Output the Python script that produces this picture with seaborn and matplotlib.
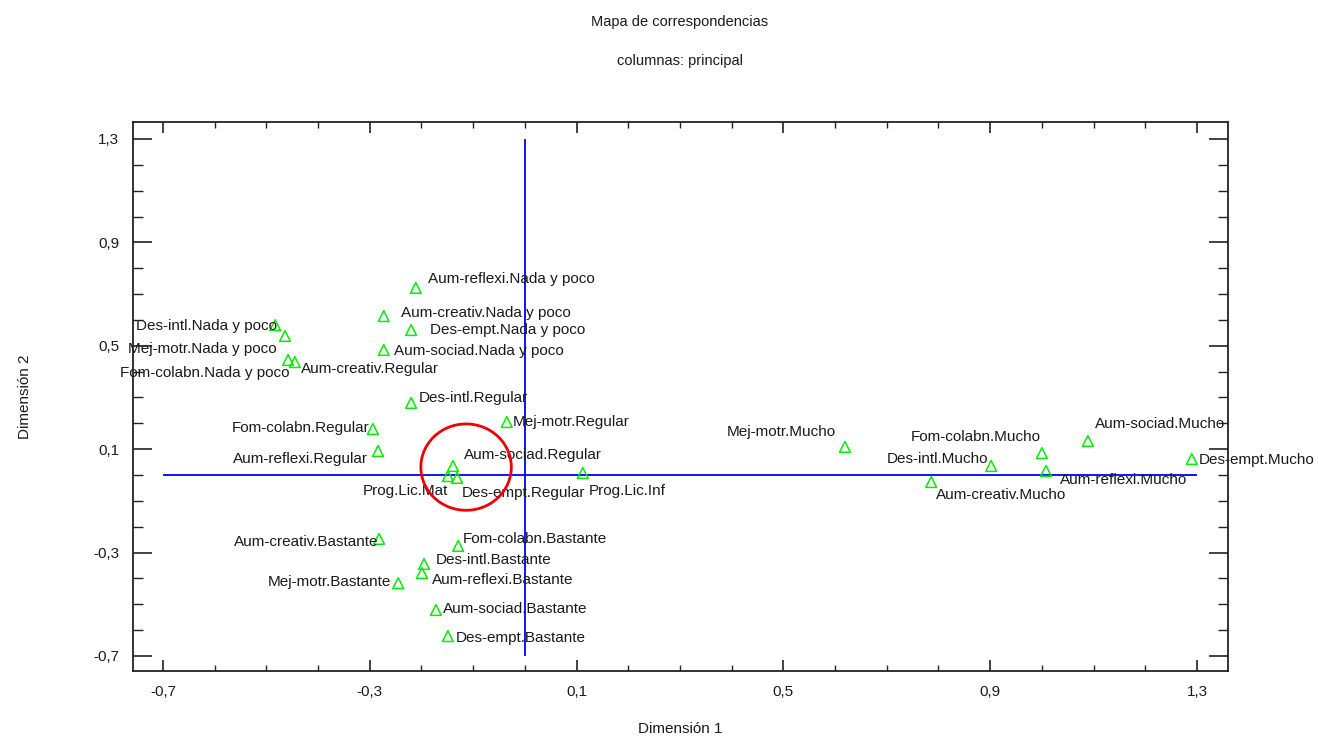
import numpy as np
import pandas as pd
import matplotlib
matplotlib.use('Agg')
import matplotlib.pyplot as plt
from matplotlib.patches import Ellipse
from matplotlib.ticker import MultipleLocator, FuncFormatter
import seaborn as sns

# puntos del mapa de correspondencias (dimensión 1, dimensión 2)
etiquetas = [
    'Aum-reflexi.Nada y poco', 'Aum-creativ.Nada y poco', 'Des-empt.Nada y poco',
    'Aum-sociad.Nada y poco', 'Des-intl.Nada y poco', 'Mej-motr.Nada y poco',
    'Fom-colabn.Nada y poco', 'Aum-creativ.Regular', 'Des-intl.Regular',
    'Mej-motr.Regular', 'Fom-colabn.Regular', 'Aum-reflexi.Regular',
    'Aum-sociad.Regular', 'Prog.Lic.Mat', 'Des-empt.Regular', 'Prog.Lic.Inf',
    'Aum-creativ.Bastante', 'Fom-colabn.Bastante', 'Des-intl.Bastante',
    'Aum-reflexi.Bastante', 'Mej-motr.Bastante', 'Aum-sociad.Bastante',
    'Des-empt.Bastante', 'Mej-motr.Mucho', 'Fom-colabn.Mucho', 'Des-intl.Mucho',
    'Aum-sociad.Mucho', 'Des-empt.Mucho', 'Aum-reflexi.Mucho', 'Aum-creativ.Mucho',
]
dim1 = [-0.211, -0.273, -0.220, -0.273, -0.483, -0.464, -0.458, -0.445, -0.220,
        -0.035, -0.294, -0.284, -0.139, -0.149, -0.131, 0.112, -0.282, -0.129,
        -0.195, -0.199, -0.245, -0.172, -0.149, 0.619, 1.000, 0.902, 1.089,
        1.290, 1.008, 0.786]
dim2 = [0.724, 0.615, 0.561, 0.484, 0.580, 0.538, 0.445, 0.437, 0.279, 0.205,
        0.178, 0.093, 0.035, -0.004, -0.011, 0.008, -0.247, -0.274, -0.344,
        -0.379, -0.418, -0.522, -0.623, 0.109, 0.085, 0.035, 0.132, 0.062,
        0.016, -0.027]

# posición de cada etiqueta respecto a su punto (px a la derecha, px hacia abajo, alineación)
pos_etiqueta = {
    'Aum-reflexi.Nada y poco': (12, -9, 'left'),
    'Aum-creativ.Nada y poco': (17, -3, 'left'),
    'Des-empt.Nada y poco': (19, 0, 'left'),
    'Aum-sociad.Nada y poco': (10, 1, 'left'),
    'Des-intl.Nada y poco': (2, 1, 'right'),
    'Mej-motr.Nada y poco': (-8, 13, 'right'),
    'Fom-colabn.Nada y poco': (1, 13, 'right'),
    'Aum-creativ.Regular': (6, 7, 'left'),
    'Des-intl.Regular': (8, -5, 'left'),
    'Mej-motr.Regular': (6, 0, 'left'),
    'Fom-colabn.Regular': (-3, -1, 'right'),
    'Aum-reflexi.Regular': (-10, 8, 'right'),
    'Aum-sociad.Regular': (11, -11, 'left'),
    'Prog.Lic.Mat': (0, 15, 'right'),
    'Des-empt.Regular': (5, 15, 'left'),
    'Prog.Lic.Inf': (6, 18, 'left'),
    'Aum-creativ.Bastante': (-1, 3, 'right'),
    'Fom-colabn.Bastante': (5, -7, 'left'),
    'Des-intl.Bastante': (12, -4, 'left'),
    'Aum-reflexi.Bastante': (10, 7, 'left'),
    'Mej-motr.Bastante': (-7, -1, 'right'),
    'Aum-sociad.Bastante': (7, -1, 'left'),
    'Des-empt.Bastante': (8, 2, 'left'),
    'Mej-motr.Mucho': (-9, -15, 'right'),
    'Fom-colabn.Mucho': (-1, -16, 'right'),
    'Des-intl.Mucho': (-3, -7, 'right'),
    'Aum-sociad.Mucho': (7, -17, 'left'),
    'Des-empt.Mucho': (7, 1, 'left'),
    'Aum-reflexi.Mucho': (14, 9, 'left'),
    'Aum-creativ.Mucho': (5, 13, 'left'),
}

df = pd.DataFrame({'etiqueta': etiquetas, 'dim1': dim1, 'dim2': dim2})

sns.set_style('white')
plt.rcParams['font.family'] = ['Liberation Sans', 'DejaVu Sans']

DPI = 100
fig = plt.figure(figsize=(13.19, 7.42), dpi=DPI)
ax = fig.add_axes([0.1008, 0.0957, 0.8302, 0.74])

# ejes de referencia en 0 (azul)
ax.hlines(0, -0.7, 1.3, color='#0000ff', lw=1.3, zorder=1)
ax.vlines(0, -0.7, 1.3, color='#0000ff', lw=1.3, zorder=1)

sns.scatterplot(data=df, x='dim1', y='dim2', marker='^', s=60,
                facecolor='none', edgecolor='#00ee00', linewidth=1.1,
                ax=ax, zorder=3, legend=False)

px2pt = 72 / DPI
for _, fila in df.iterrows():
    dx, dy, ha = pos_etiqueta[fila['etiqueta']]
    ax.annotate(fila['etiqueta'], (fila['dim1'], fila['dim2']),
                xytext=(dx * px2pt, -dy * px2pt), textcoords='offset points',
                ha=ha, va='center', fontsize=11, color='#1a1a1a', zorder=4)

# círculo rojo alrededor del grupo "Regular" cercano al origen
grupo = df[df['etiqueta'].isin(['Aum-sociad.Regular', 'Prog.Lic.Mat', 'Des-empt.Regular'])]
cx, cy = grupo['dim1'].mean() + 0.026, grupo['dim2'].mean() + 0.024
ax.add_patch(Ellipse((cx, cy), 0.175, 0.334, fill=False, edgecolor='#ee0000',
                     lw=2, zorder=5))

ax.set_xlim(-0.758, 1.36)
ax.set_ylim(-0.758, 1.366)

fmt = FuncFormatter(lambda v, p: f'{v:.1f}'.replace('.', ','))
ax.xaxis.set_major_locator(MultipleLocator(0.4, offset=0.1))
ax.yaxis.set_major_locator(MultipleLocator(0.4, offset=0.1))
ax.xaxis.set_minor_locator(MultipleLocator(0.1))
ax.yaxis.set_minor_locator(MultipleLocator(0.1))
ax.xaxis.set_major_formatter(fmt)
ax.yaxis.set_major_formatter(fmt)
ax.tick_params(which='both', direction='in', top=True, right=True, bottom=True,
               left=True, colors='#222222', labelsize=11, labelcolor='#1a1a1a')
ax.tick_params(axis='x', which='major', length=8, width=1.2, pad=10)
ax.tick_params(axis='x', which='minor', length=4.5, width=1)
ax.tick_params(axis='y', which='major', length=14, width=1.2, pad=10)
ax.tick_params(axis='y', which='minor', length=7, width=1)

for s in ax.spines.values():
    s.set_color('#222222')
    s.set_linewidth(1.3)

ax.set_xlabel('Dimensión 1', fontsize=11, labelpad=17, color='#1a1a1a')
ax.set_ylabel('Dimensión 2', fontsize=11, labelpad=44, color='#1a1a1a')

fig.text(0.5155, 0.970, 'Mapa de correspondencias', ha='center', va='center',
         fontsize=10.5, color='#1a1a1a')
fig.text(0.5155, 0.918, 'columnas: principal', ha='center', va='center',
         fontsize=10.5, color='#1a1a1a')

fig.savefig('out.png', dpi=DPI)
